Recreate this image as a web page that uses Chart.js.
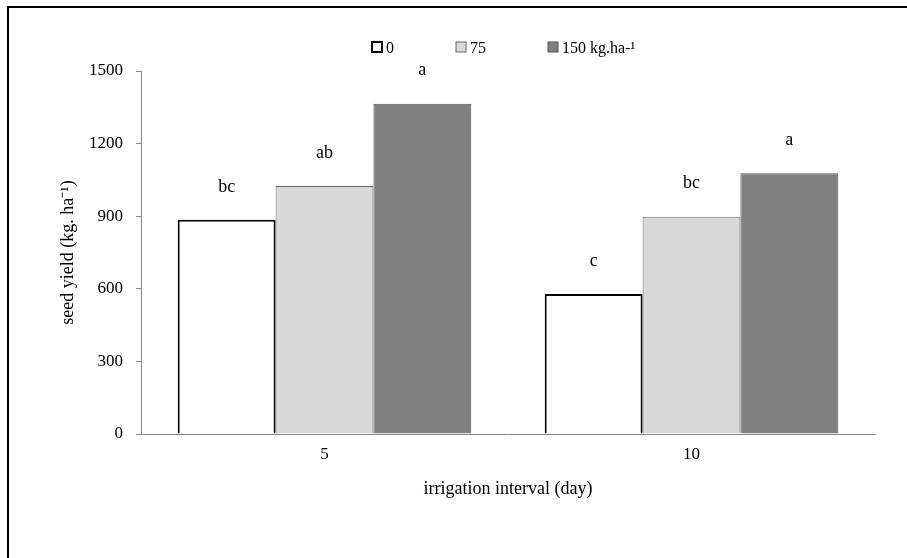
<!DOCTYPE html>
<html>
<head>
<meta charset="utf-8">
<script src="https://cdn.jsdelivr.net/npm/chart.js@4"></script>
<style>
  html, body { margin: 0; padding: 0; background: #fff; }
  #wrap { position: relative; width: 907px; height: 558px; }
  #frame { position: absolute; left: 7px; top: 6px; right: 0; bottom: 0;
           border-top: 2px solid #000; border-left: 2px solid #000; pointer-events: none; }
</style>
</head>
<body>
<div id="wrap">
  <canvas id="chart" width="907" height="558"></canvas>
  <div id="frame"></div>
</div>
<script>
// data
const intervals = ["5", "10"];
const rates = ["0", "75", "150 kg.ha-\u00b9"];
const yield0 = [885, 578];
const yield75 = [1025, 898];
const yield150 = [1365, 1077];
const letters0 = ["bc", "c"];
const letters75 = ["ab", "bc"];
const letters150 = ["a", "a"];
const yTicks = [0, 300, 600, 900, 1200, 1500];

const serif = "'Liberation Serif', 'Times New Roman', serif";

// letters over each bar
const letterPlugin = {
  id: "letters",
  afterDatasetsDraw(chart) {
    const ctx = chart.ctx;
    ctx.save();
    ctx.font = "18px " + serif;
    ctx.fillStyle = "#000";
    ctx.textAlign = "center";
    ctx.textBaseline = "middle";
    chart.data.datasets.forEach(function (ds, i) {
      chart.getDatasetMeta(i).data.forEach(function (bar, j) {
        ctx.fillText(ds.letters[j], bar.x, bar.y - 33);
      });
    });
    ctx.restore();
  }
};

// legend drawn in one row at the top
const legendPlugin = {
  id: "rowLegend",
  afterDraw(chart) {
    const ctx = chart.ctx;
    ctx.save();
    ctx.font = "16px " + serif;
    ctx.textBaseline = "alphabetic";
    let x = 372;
    chart.data.datasets.forEach(function (ds) {
      ctx.fillStyle = ds.backgroundColor;
      ctx.fillRect(x, 42, 10, 10);
      ctx.lineWidth = ds.borderWidth;
      ctx.strokeStyle = ds.borderColor;
      ctx.strokeRect(x, 42, 10, 10);
      ctx.fillStyle = "#000";
      ctx.fillText(ds.label, x + 14, 53);
      x += 14 + ctx.measureText(ds.label).width + 62;
    });
    ctx.restore();
  }
};

new Chart(document.getElementById("chart"), {
  type: "bar",
  data: {
    labels: intervals,
    datasets: [
      { label: rates[0], data: yield0, letters: letters0,
        backgroundColor: "#ffffff", borderColor: "#000000", borderWidth: 2 },
      { label: rates[1], data: yield75, letters: letters75,
        backgroundColor: "#d9d9d9", borderColor: "#666666", borderWidth: 1 },
      { label: rates[2], data: yield150, letters: letters150,
        backgroundColor: "#808080", borderColor: "#555555", borderWidth: 1 }
    ]
  },
  options: {
    responsive: false,
    animation: false,
    layout: { padding: { left: 53, right: 32, top: 71, bottom: 58 } },
    datasets: { bar: { categoryPercentage: 0.8, barPercentage: 1.0 } },
    plugins: { legend: { display: false }, tooltip: { enabled: false } },
    scales: {
      x: {
        grid: { display: false },
        border: { color: "#888888", width: 1 },
        ticks: { color: "#000", font: { family: serif, size: 17 }, padding: 2 },
        title: { display: true, text: "irrigation interval (day)", color: "#000",
                 font: { family: serif, size: 18 }, padding: { top: 12, bottom: 0 } }
      },
      y: {
        min: 0, max: 1500,
        afterBuildTicks(scale) { scale.ticks = yTicks.map(v => ({ value: v })); },
        afterFit(scale) { scale.width = 88; },
        grid: { drawOnChartArea: false, drawTicks: true, tickLength: 5, color: "#888888" },
        border: { color: "#888888", width: 1 },
        ticks: { color: "#000", font: { family: serif, size: 17 }, padding: 13,
                 callback: v => String(v) },
        title: { display: true, text: "seed yield (kg. ha\u207b\u00b9)", color: "#000",
                 font: { family: serif, size: 18 } }
      }
    }
  },
  plugins: [letterPlugin, legendPlugin]
});
</script>
</body>
</html>
